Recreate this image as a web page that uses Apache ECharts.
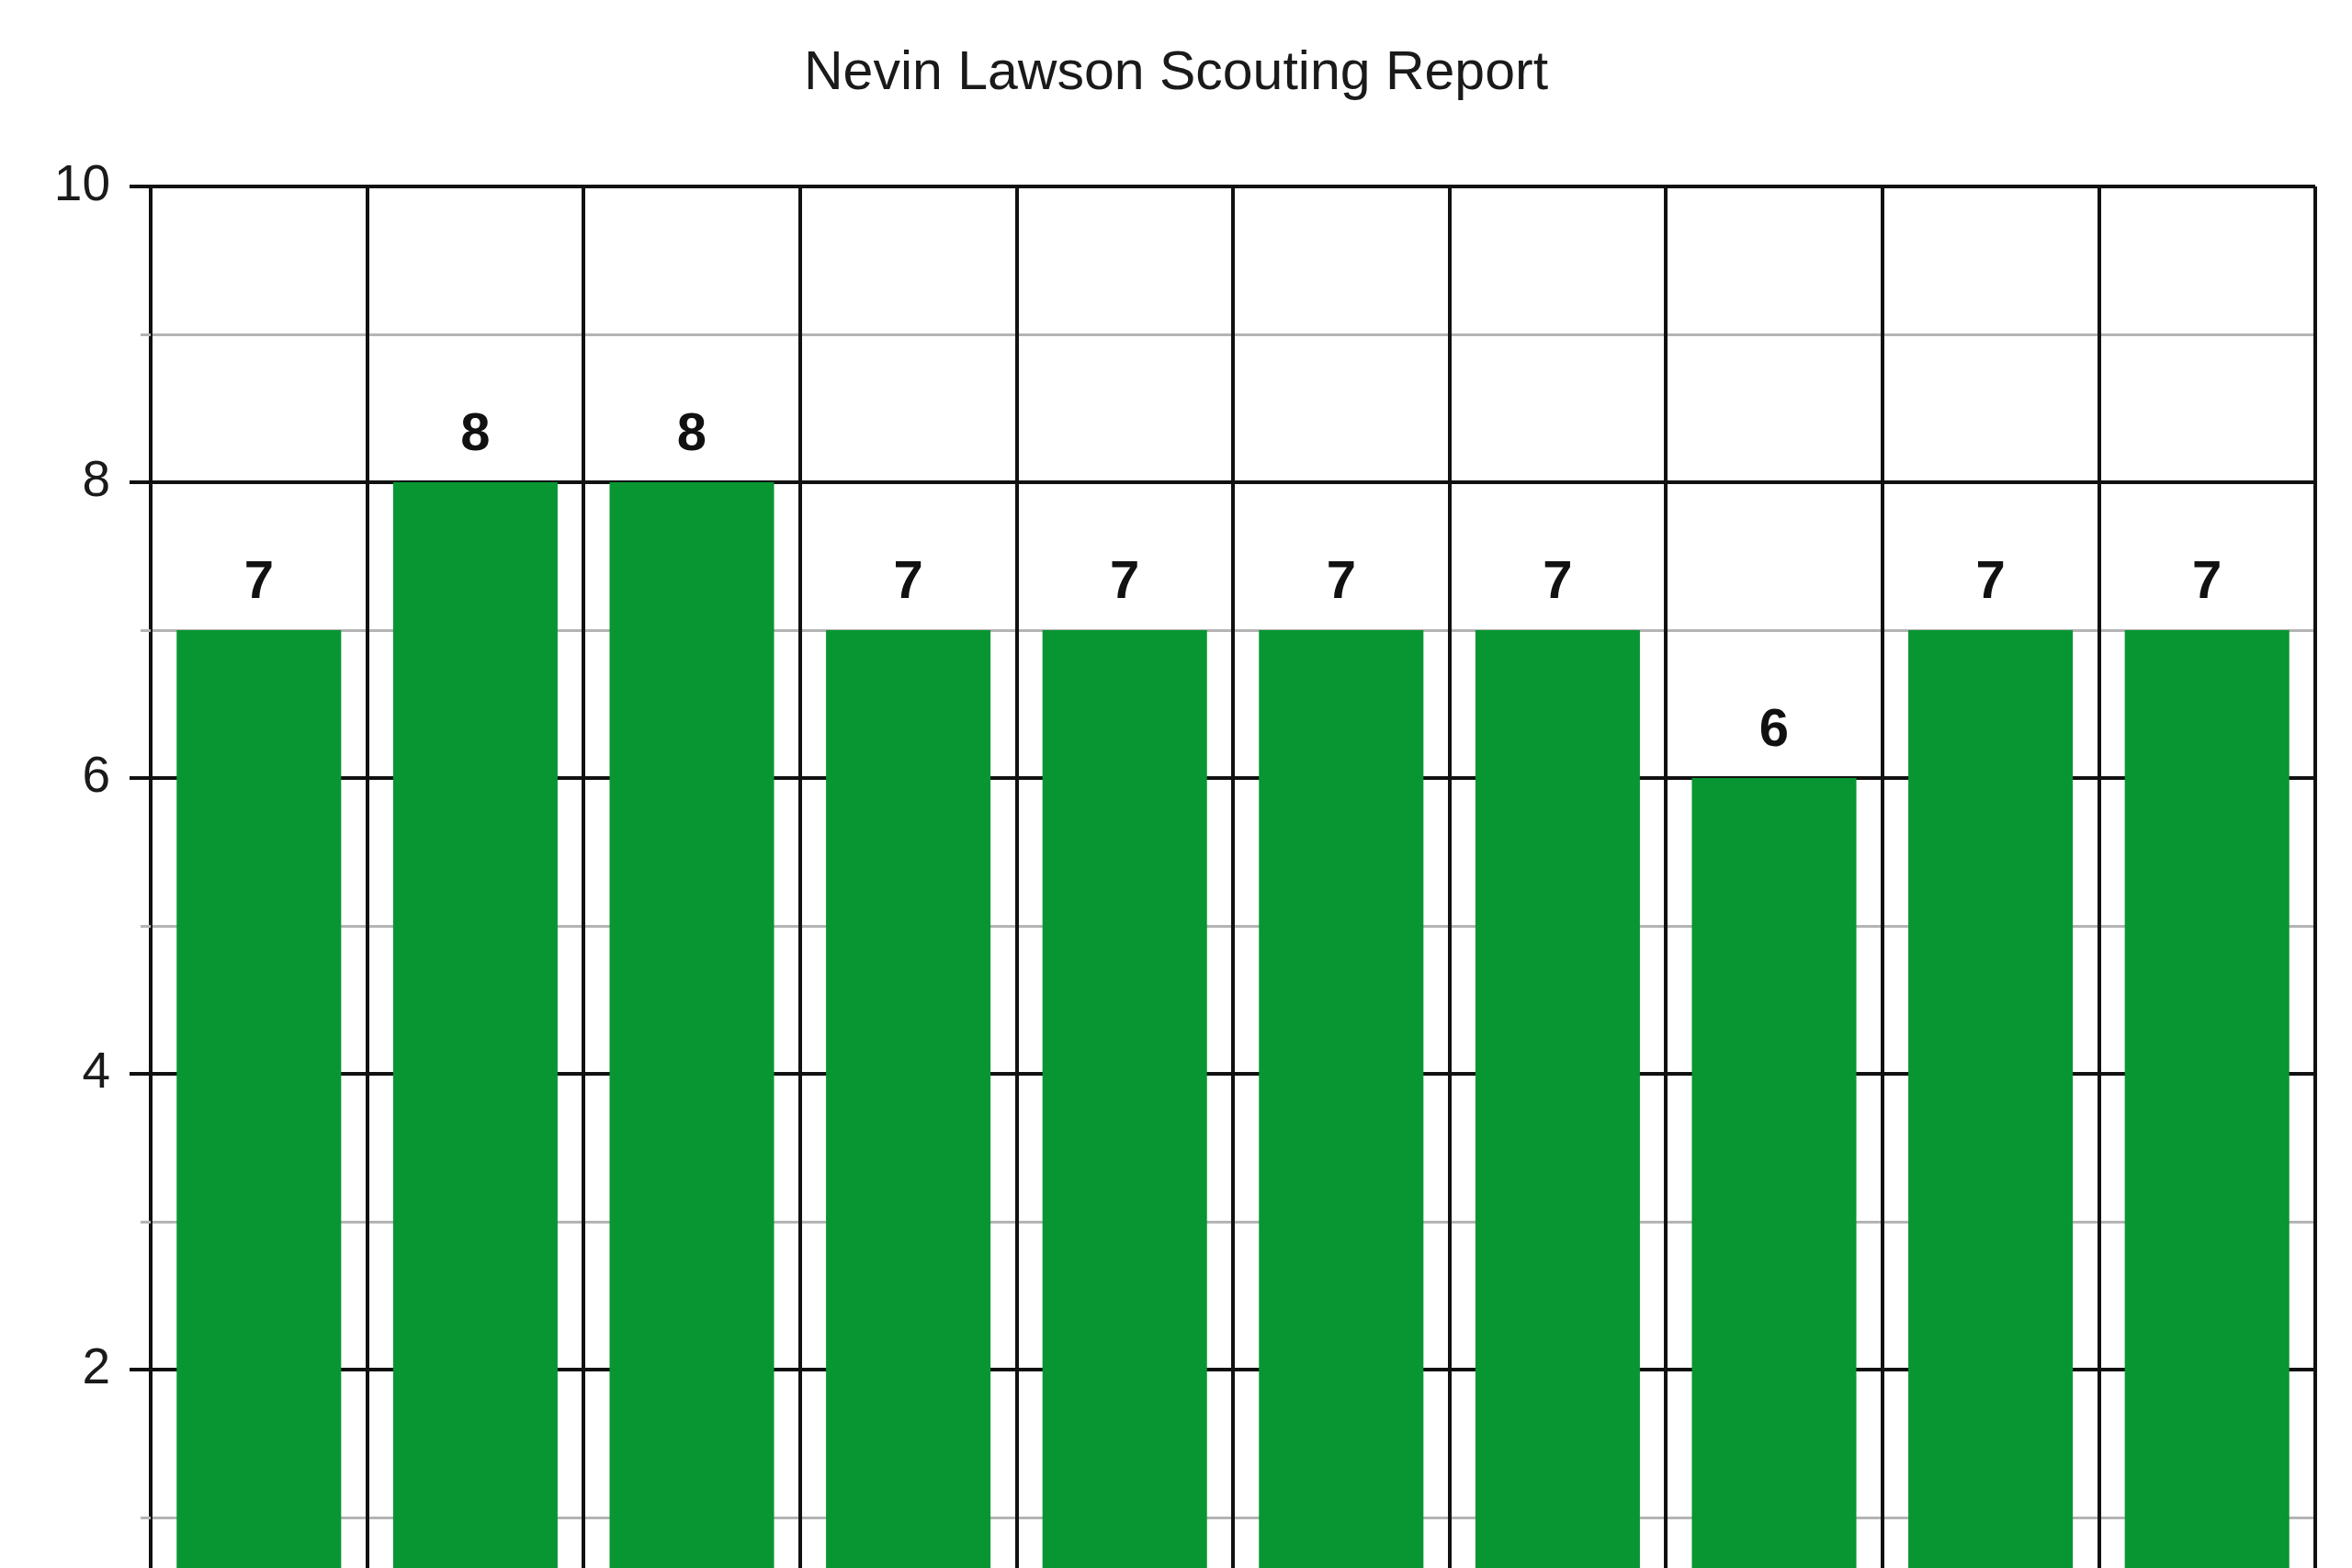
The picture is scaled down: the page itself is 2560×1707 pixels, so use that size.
<!DOCTYPE html>
<html>
<head>
<meta charset="utf-8">
<style>
html,body{margin:0;padding:0;background:#fff;}
#chart{width:2560px;height:1707px;}
</style>
<script src="https://cdn.jsdelivr.net/npm/echarts@6/dist/echarts.min.js"></script>
</head>
<body>
<div id="chart"></div>
<script>
const titleText = 'Nevin Lawson Scouting Report';
const categories = ['A','B','C','D','E','F','G','H','I','J'];
const values = [7, 8, 8, 7, 7, 7, 7, 6, 7, 7];
const yTicks = [0, 2, 4, 6, 8, 10];

const chart = echarts.init(document.getElementById('chart'), null, {renderer:'canvas'});
chart.setOption({
  animation: false,
  backgroundColor: '#ffffff',
  title: {
    text: titleText,
    left: 'center',
    top: 46,
    textStyle: {fontFamily: 'Liberation Sans', fontSize: 59, fontWeight: 'normal', color: '#1a1a1a'}
  },
  grid: {left: 164, right: 40, top: 203, height: 1610, containLabel: false, outerBoundsMode: 'none'},
  xAxis: {
    type: 'category',
    data: categories,
    boundaryGap: true,
    axisLine: {show: false},
    axisTick: {show: false},
    axisLabel: {show: false},
    splitLine: {show: true, lineStyle: {color: '#111111', width: 4}}
  },
  yAxis: {
    type: 'value',
    min: yTicks[0],
    max: yTicks[yTicks.length - 1],
    interval: 2,
    axisLine: {show: true, lineStyle: {color: '#111111', width: 4}},
    axisTick: {show: true, length: 23, lineStyle: {color: '#111111', width: 4}},
    minorTick: {show: true, splitNumber: 2, length: 11, lineStyle: {color: '#b4b4b4', width: 3}},
    minorSplitLine: {show: true, lineStyle: {color: '#b4b4b4', width: 3}},
    splitLine: {show: true, lineStyle: {color: '#111111', width: 4}},
    axisLabel: {margin: 44, fontFamily: 'Liberation Sans', fontSize: 55, color: '#1a1a1a'}
  },
  series: [{
    type: 'bar',
    data: values,
    barCategoryGap: '24%',
    itemStyle: {color: '#089632'},
    label: {
      show: true,
      position: 'top',
      distance: 22,
      fontFamily: 'Liberation Sans',
      fontSize: 58,
      fontWeight: 'bold',
      color: '#111111'
    }
  }]
});
</script>
</body>
</html>
